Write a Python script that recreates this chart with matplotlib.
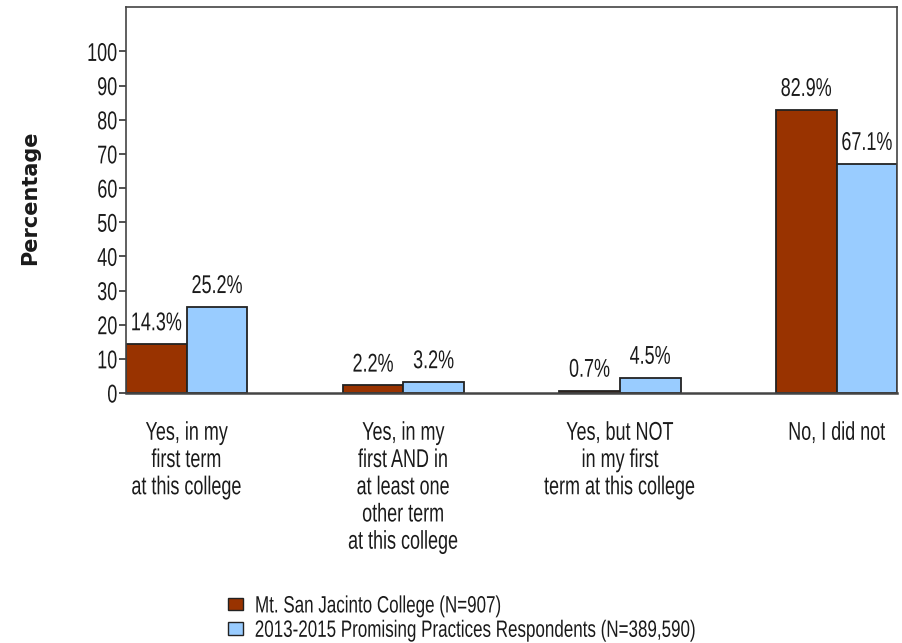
import numpy as np
import matplotlib
matplotlib.use("Agg")
import matplotlib.pyplot as plt
from matplotlib.patches import Patch
from matplotlib.patheffects import AbstractPathEffect
from matplotlib.transforms import Affine2D, Bbox

categories = [
    "Yes, in my\nfirst term\nat this college",
    "Yes, in my\nfirst AND in\nat least one\nother term\nat this college",
    "Yes, but NOT\nin my first\nterm at this college",
    "No, I did not",
]
college_vals = [14.3, 2.2, 0.7, 82.9]
promising_vals = [25.2, 3.2, 4.5, 67.1]
series_names = [
    "Mt. San Jacinto College (N=907)",
    "2013-2015 Promising Practices Respondents (N=389,590)",
]
yticks = list(range(0, 101, 10))


def _pivot(x0, x1, anchor):
    if anchor == "left":
        return x0
    if anchor == "right":
        return x1
    return (x0 + x1) / 2


class Narrow(AbstractPathEffect):
    """Squeeze glyphs horizontally to get a condensed face from Liberation Sans."""

    def __init__(self, sx=0.70, anchor="center"):
        super().__init__()
        self.sx = sx
        self.anchor = anchor

    def draw_path(self, renderer, gc, tpath, affine, rgbFace=None):
        ext = tpath.get_extents(affine)
        cx = _pivot(ext.x0, ext.x1, self.anchor)
        squeeze = Affine2D().translate(-cx, 0).scale(self.sx, 1).translate(cx, 0)
        renderer.draw_path(gc, tpath, affine + squeeze, rgbFace)


def narrow(txt, sx=0.70, anchor="center"):
    # squeeze the drawn glyphs and report the matching (narrower) extent
    txt.set_path_effects([Narrow(sx, anchor)])
    orig = txt.get_window_extent

    def extent(renderer=None, dpi=None):
        bb = orig(renderer, dpi)
        cx = _pivot(bb.x0, bb.x1, anchor)
        return Bbox.from_extents(cx + (bb.x0 - cx) * sx, bb.y0,
                                 cx + (bb.x1 - cx) * sx, bb.y1)

    txt.get_window_extent = extent
    return txt


plt.rcParams["font.family"] = ["Liberation Sans", "DejaVu Sans"]
text_col = "#1a1a1a"
fs = 18.5

fig = plt.figure(figsize=(9.02, 6.43), dpi=100)
ax = fig.add_axes([0.1397, 0.3888, 0.855, 0.6003])

x = np.arange(len(categories))
width = 0.28
c_dark, c_light = "#993300", "#99ccff"

b1 = ax.bar(x - width / 2, college_vals, width, color=c_dark, edgecolor="#222222", linewidth=1.3)
b2 = ax.bar(x + width / 2, promising_vals, width, color=c_light, edgecolor="#222222", linewidth=1.3)

# value labels over each bar
for bars, vals in [(b1, college_vals), (b2, promising_vals)]:
    for bar, v in zip(bars, vals):
        t = ax.annotate(f"{v}%", (bar.get_x() + bar.get_width() / 2, v),
                        xytext=(0, 10), textcoords="offset points",
                        ha="center", va="baseline", fontsize=fs, color=text_col)
        narrow(t)

ax.set_xlim(-width, len(categories) - 1 + width)
ax.set_ylim(0, 113)
ax.set_yticks(yticks)
ax.set_yticklabels([str(t) for t in yticks], fontsize=fs, color=text_col)
for lab in ax.get_yticklabels():
    narrow(lab, anchor="right")
ax.tick_params(axis="y", direction="out", length=5, width=1.2, color="#333333", pad=1)
ax.set_xticks([])
for s in ax.spines.values():
    s.set_color("#444444")
    s.set_linewidth(1.2)
ax.spines["bottom"].set_linewidth(1.8)

# category labels under each group
for xi, lab in zip(x, categories):
    t = ax.annotate(lab, (xi, 0), xytext=(0, -20), textcoords="offset points",
                    ha="center", va="top", fontsize=fs, color=text_col,
                    linespacing=1.17, annotation_clip=False)
    narrow(t)

fig.text(0.033, 0.693, "Percentage", rotation=90, ha="center", va="center",
         fontsize=15, fontweight="bold", color=text_col, family="DejaVu Sans")

handles = [Patch(facecolor=c_dark, edgecolor="#222222"),
           Patch(facecolor=c_light, edgecolor="#222222")]
leg = fig.legend(handles, series_names, loc="lower left", bbox_to_anchor=(0.252, 0.0),
                 frameon=False, fontsize=17, handlelength=0.6, handleheight=0.45,
                 handletextpad=0.5, labelspacing=0.1, borderpad=0.05, borderaxespad=0)
for t in leg.get_texts():
    t.set_color(text_col)
    narrow(t, sx=0.72, anchor="left")

fig.savefig("out.png", dpi=100)
